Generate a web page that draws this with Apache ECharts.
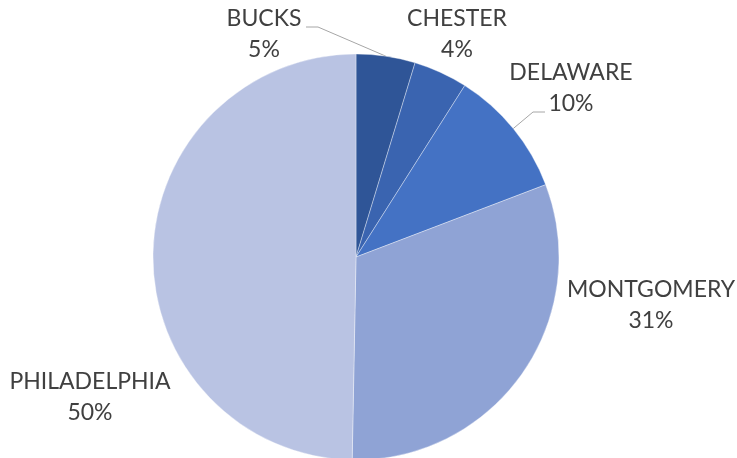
<!DOCTYPE html>
<html>
<head>
<meta charset="utf-8">
<script src="https://cdn.jsdelivr.net/npm/echarts@6/dist/echarts.min.js"></script>
<style>
  html, body { margin: 0; padding: 0; background: #fff; }
  #pieChart { width: 737px; height: 458px; }
</style>
</head>
<body>
<div id="pieChart"></div>
<script>
  // county share, clockwise from 12 o'clock
  var counties = ['BUCKS', 'CHESTER', 'DELAWARE', 'MONTGOMERY', 'PHILADELPHIA']
  var shares = [4.7, 4.3, 10.2, 31.1, 49.7]
  var colors = ['#2F5597', '#3A64B0', '#4472C4', '#8FA3D5', '#B9C3E3']

  // where each label sits (centre of the two lines), and which ones get a leader line
  var labelSpots = [[264, 34], [457, 34], [571, 88], [651, 305], [90, 397]]
  var lineBends = [[[318, 27], [306, 27]], null, [[533, 112], [545, 112]], null, null]

  var chart = echarts.init(document.getElementById('pieChart'))
  chart.setOption({
    animation: false,
    series: [{
      type: 'pie',
      center: [356, 257],
      radius: 203,
      startAngle: 90,
      clockwise: true,
      itemStyle: {
        borderColor: 'rgba(255,255,255,0.6)',
        borderWidth: 0.6
      },
      label: {
        show: true,
        position: 'outside',
        overflow: 'none',
        color: '#404040',
        fontFamily: 'Lato',
        fontSize: 23,
        lineHeight: 31,
        align: 'center',
        formatter: function (p) {
          return p.name + '\n' + Math.round(p.percent) + '%'
        }
      },
      labelLine: {
        show: true,
        lineStyle: { color: '#A6A6A6', width: 1 }
      },
      labelLayout: function (p) {
        var spot = labelSpots[p.dataIndex]
        var bend = lineBends[p.dataIndex]
        var res = { x: spot[0], y: spot[1], align: 'center', verticalAlign: 'middle' }
        if (bend) {
          res.labelLinePoints = [p.labelLinePoints[0], bend[0], bend[1]]
        } else {
          res.labelLinePoints = [[0, 0], [0, 0], [0, 0]]
        }
        return res
      },
      data: counties.map(function (name, i) {
        return {
          name: name,
          value: shares[i],
          itemStyle: { color: colors[i] },
          labelLine: { show: !!lineBends[i] }
        }
      })
    }]
  })
</script>
</body>
</html>
